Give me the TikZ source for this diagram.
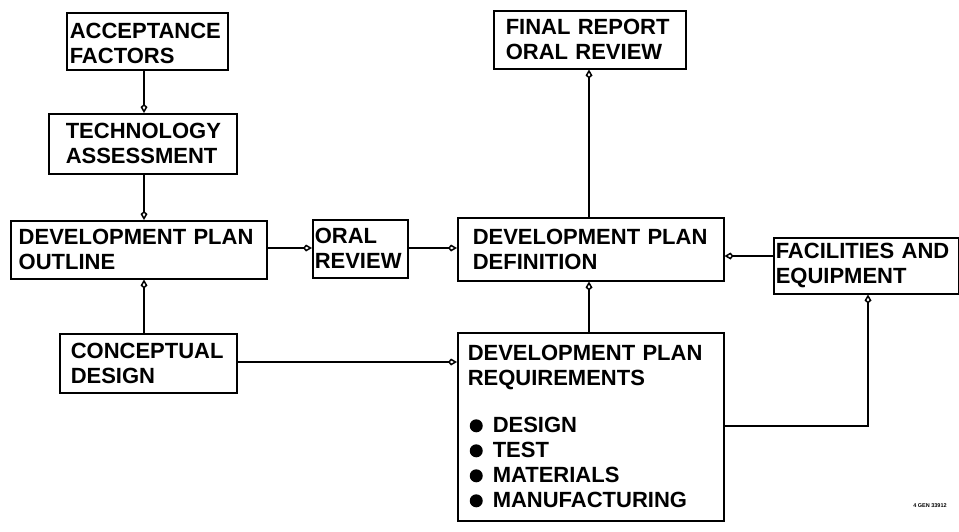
\documentclass[tikz,border=0pt]{standalone}
\usepackage{fontspec}
\setmainfont{Liberation Sans}
\usetikzlibrary{arrows.meta}
\newcommand\blt{\tikz[baseline=0pt]\fill (6.5pt,7pt) circle[radius=6.5pt];}
\begin{document}
\begin{tikzpicture}[x=1pt,y=-1pt,
  box/.style={draw, line width=1.5pt, anchor=north west, inner ysep=0pt,
    font=\fontsize{22}{25}\selectfont\bfseries, align=left},
  arr/.style={line width=1.5pt, -{Kite[open,length=9pt,width=7pt,inset=3pt]}}]
\useasboundingbox (0,0) rectangle (959,531);

\node[box, minimum width=161pt, minimum height=57pt, inner xsep=3pt, text width=155pt]
  (AF) at (66,12) {\rule{0pt}{20pt}ACCEPTANCE\\FACTORS};
\node[box, minimum width=188pt, minimum height=60pt, inner xsep=17pt, text width=154pt]
  (TA) at (48,113) {TECHNOLOGY\\ASSESSMENT};
\node[box, minimum width=256pt, minimum height=58pt, inner xsep=8pt, text width=240pt]
  (DPO) at (10,220) {DEVELOPMENT PLAN\\OUTLINE};
\node[box, minimum width=95pt, minimum height=58pt, inner xsep=2pt, text width=91pt]
  (OR) at (312,219) {ORAL\\REVIEW};
\node[box, minimum width=177pt, minimum height=59pt, inner xsep=11pt, text width=155pt]
  (CD) at (59,333) {CONCEPTUAL\\DESIGN};
\node[box, minimum width=192pt, minimum height=58pt, inner xsep=12pt, text width=168pt]
  (FR) at (493,10) {FINAL REPORT\\ORAL REVIEW};
\node[box, minimum width=266pt, minimum height=63pt, inner xsep=15pt, text width=236pt]
  (DPD) at (457,217) {DEVELOPMENT PLAN\\DEFINITION};
\node[box, minimum width=185pt, minimum height=56pt, inner xsep=2pt, text width=181pt]
  (FE) at (773,237) {FACILITIES AND\\EQUIPMENT};
\node[box, minimum width=266pt, minimum height=188pt, inner xsep=10pt, text width=246pt]
  (DPR) at (457,332) {DEVELOPMENT PLAN\\REQUIREMENTS\\[22pt]
  \hspace*{2pt}\blt\hspace{10pt}DESIGN\\
  \hspace*{2pt}\blt\hspace{10pt}TEST\\
  \hspace*{2pt}\blt\hspace{10pt}MATERIALS\\
  \hspace*{2pt}\blt\hspace{10pt}MANUFACTURING};

\node[font=\fontsize{5.5}{6}\selectfont\bfseries, inner sep=0pt] (id) at (930,506) {4 GEN 33912};

\coordinate (xa) at (144,0);
\coordinate (xd) at (589,0);
\coordinate (xf) at (868,0);
\coordinate (ya) at (0,248);
\coordinate (yb) at (0,256);
\coordinate (yc) at (0,362);
\coordinate (yd) at (0,426);

\draw[arr] (AF.south -| xa) -- (TA.north -| xa);
\draw[arr] (TA.south -| xa) -- (DPO.north -| xa);
\draw[arr] (CD.north -| xa) -- (DPO.south -| xa);
\draw[arr] (DPO.east |- ya) -- (OR.west |- ya);
\draw[arr] (OR.east |- ya) -- (DPD.west |- ya);
\draw[arr] (DPD.north -| xd) -- (FR.south -| xd);
\draw[arr] (DPR.north -| xd) -- (DPD.south -| xd);
\draw[arr] (FE.west |- yb) -- (DPD.east |- yb);
\draw[arr] (CD.east |- yc) -- (DPR.west |- yc);
\draw[arr] (DPR.east |- yd) -| (FE.south -| xf);
\end{tikzpicture}
\end{document}
